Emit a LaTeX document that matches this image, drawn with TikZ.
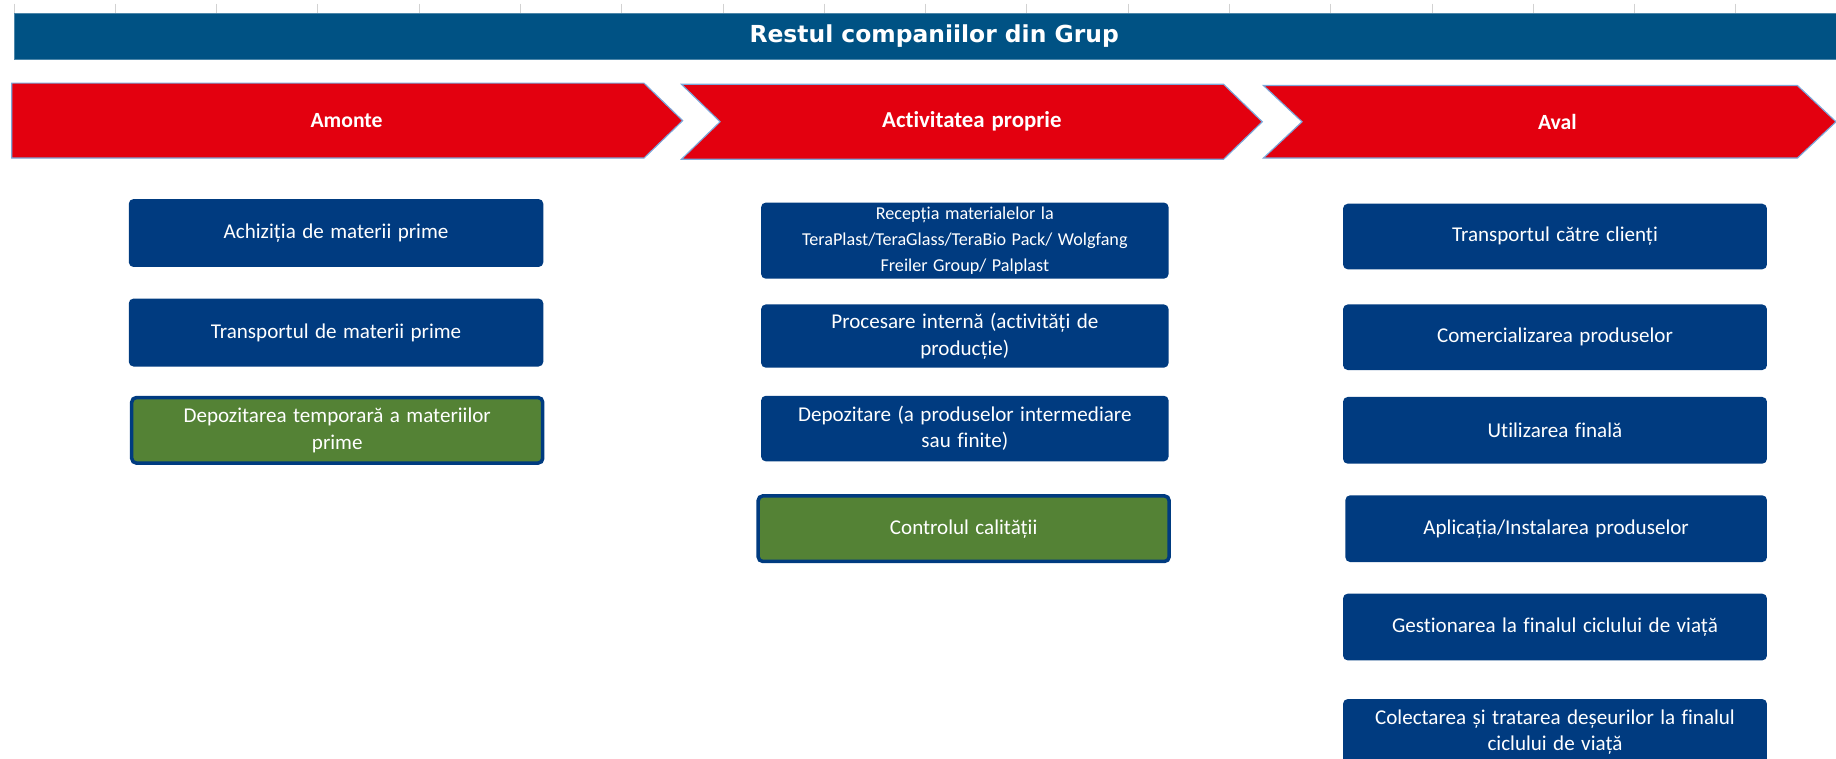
\documentclass[tikz,border=0pt]{standalone}
\usepackage{fontspec}
\setmainfont{Carlito}[Ligatures=NoCommon, WordSpace=1.35]
\newfontfamily\titlufont{DejaVu Sans}
\definecolor{albastrutitlu}{HTML}{005284}
\definecolor{rosu}{HTML}{E3000F}
\definecolor{albastru}{HTML}{003B80}
\definecolor{verdeinchis}{HTML}{548235}
\definecolor{contur}{HTML}{7DA7D9}
\begin{document}
\begin{tikzpicture}[x=1pt,y=-1pt]
\tikzstyle{caseta}=[rectangle, rounded corners=4pt, fill=albastru, text=white, align=center, inner sep=0pt, font=\fontsize{18}{22.5}\selectfont];
\tikzstyle{casetaverde}=[caseta, fill=verdeinchis, draw=albastru, line width=3pt];
\tikzstyle{coloana1}=[minimum width=354pt, minimum height=58pt];
\tikzstyle{coloana2}=[minimum width=348pt, minimum height=56pt];
\tikzstyle{coloana3}=[minimum width=362pt, minimum height=57pt];
\tikzstyle{sageata}=[fill=rosu, draw=contur, line width=1pt];
\tikzstyle{eticheta}=[text=white, font=\bfseries\fontsize{18.5}{22}\selectfont];

\clip (0,0) rectangle (1568,648);

% liniile grilei
\foreach \i in {0,...,17}
  \draw[gray!35, line width=0.8pt] (12+86.5*\i,3) -- (12+86.5*\i,11);

% titlul
\node[fill=albastrutitlu, draw=albastrutitlu!70!white, line width=0.6pt, anchor=north west,
  minimum width=1571pt, minimum height=39pt, inner sep=0pt, text=white,
  font=\titlufont\bfseries\fontsize{20}{22}\selectfont] (titlu) at (12,11) {Restul companiilor din Grup};

% sagetile
\draw[sageata] (10,71) -- (550,71) -- (583,103) -- (550,135) -- (10,135) -- cycle;
\draw[sageata] (582,72) -- (1045,72) -- (1078,104) -- (1045,136) -- (582,136) -- (615,104) -- cycle;
\draw[sageata] (1079,73) -- (1535,73) -- (1568,104) -- (1535,135) -- (1079,135) -- (1112,104) -- cycle;
\node[eticheta] (amonte) at (296,103) {Amonte};
\node[eticheta, font=\bfseries\fontsize{19.5}{22}\selectfont] (proprie) at (830,104) {Activitatea proprie};
\node[eticheta] (aval) at (1330,104) {Aval};

% amonte
\node[caseta, coloana1] (achizitie) at (287,199) {Achiziția de materii prime};
\node[caseta, coloana1] (transport) at (287,284) {Transportul de materii prime};
\node[casetaverde, coloana1, minimum width=351pt, minimum height=56pt] (depozitaretemp) at (288,367.5) {Depozitarea temporară a materiilor\\prime};

% activitatea proprie
\node[caseta, coloana2, minimum height=65pt, font=\fontsize{15.5}{22.5}\selectfont] (receptie) at (824,205.5) {\vphantom{Rp}Recepția materialelor la\\TeraPlast/TeraGlass/TeraBio Pack/ Wolgfang\\Freiler Group/ Palplast};
\node[caseta, coloana2, minimum height=54pt] (procesare) at (824,287) {Procesare internă (activități de\\producție)};
\node[caseta, coloana2] (depozitare) at (824,366) {Depozitare (a produselor intermediare\\sau finite)};
\node[casetaverde, minimum width=351pt, minimum height=56pt] (control) at (823,451.5) {Controlul calității};

% aval
\node[caseta, coloana3, minimum height=56pt] (transportclienti) at (1328,202) {Transportul către clienți};
\node[caseta, coloana3, minimum height=56pt] (comercializare) at (1328,288) {Comercializarea produselor};
\node[caseta, coloana3] (utilizare) at (1328,367.5) {Utilizarea finală};
\node[caseta, coloana3, minimum width=360pt] (aplicatie) at (1329,451.5) {Aplicația/Instalarea produselor};
\node[caseta, coloana3] (gestionare) at (1328,535.5) {Gestionarea la finalul ciclului de viață};
\node[caseta, coloana3] (colectare) at (1328,625.5) {Colectarea și tratarea deșeurilor la finalul\\ciclului de viață};
\end{tikzpicture}
\end{document}
